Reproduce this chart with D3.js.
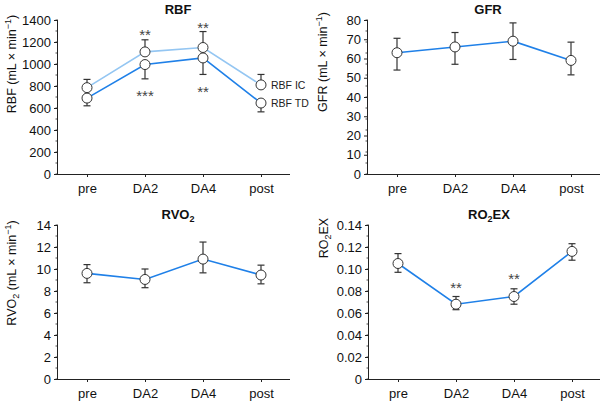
<!DOCTYPE html>
<html><head><meta charset="utf-8">
<script src="https://cdn.jsdelivr.net/npm/d3@7"></script>
<style>body{margin:0;background:#fff}svg{display:block}text{font-family:"Liberation Sans",Arial,sans-serif}</style>
</head><body>
<svg id="c" width="600" height="401"></svg>
<script>
const categories = ["pre","DA2","DA4","post"];
// RBF
const rbfIC = [785,1110,1150,810];
const rbfICUpper = [860,1220,1295,905];
const rbfTD = [690,995,1055,645];
const rbfTDLower = [620,865,905,565];
const rbfTicks = [0,200,400,600,800,1000,1200,1400];
// GFR
const gfr = [63,66,69,59];
const gfrUpper = [70.5,73.5,78.5,68.5];
const gfrLower = [54,57,59.5,51.5];
const gfrTicks = [0,10,20,30,40,50,60,70,80];
// RVO2
const rvo2 = [9.6,9.05,10.9,9.45];
const rvo2Upper = [10.4,10.0,12.45,10.35];
const rvo2Lower = [8.75,8.3,9.65,8.65];
const rvo2Ticks = [0,2,4,6,8,10,12,14];
// RO2EX
const ro2ex = [0.105,0.068,0.075,0.116];
const ro2exUpper = [0.114,0.075,0.082,0.123];
const ro2exLower = [0.097,0.063,0.068,0.108];
const ro2exTicks = [0,0.02,0.04,0.06,0.08,0.10,0.12,0.14];

const svg = d3.select("#c");
const DARK="#1f80e8", LIGHT="#94c6f2", GREY="#333";

function panel(o){
  const g = svg.append("g");
  const x = d3.scalePoint().domain(categories).range([o.x0, o.x0+232]).padding(0.5);
  const y = d3.scaleLinear().domain([0,o.max]).range([o.yb, o.yt]);
  const minor = d3.range(0, o.max+1e-9, o.max/14);
  g.append("g").selectAll("line").data(minor).join("line")
    .attr("x1",o.x0-2.5).attr("x2",o.x0).attr("y1",d=>y(d)).attr("y2",d=>y(d))
    .attr("stroke","#222").attr("stroke-width",0.8);
  const ya = d3.axisLeft(y).tickValues(o.ticks).tickSize(4).tickPadding(3).tickFormat(o.fmt);
  const yg = g.append("g").attr("transform",`translate(${o.x0},0)`).call(ya);
  yg.select(".domain").attr("d",`M${-0.5},${o.yt}V${o.yb}`).attr("stroke","#222");
  yg.selectAll(".tick line").attr("stroke","#222");
  yg.selectAll("text").attr("font-size",13).attr("fill","#111").style("font-family",'"Liberation Sans",Arial,sans-serif');
  const xa = d3.axisBottom(x).tickSize(3).tickPadding(7);
  const xg = g.append("g").attr("transform",`translate(0,${o.yb})`).call(xa);
  xg.select(".domain").attr("d",`M${o.x0},0.5H${o.x0+232}`).attr("stroke","#222");
  xg.selectAll(".tick line").attr("stroke","#222");
  xg.selectAll("text").attr("font-size",13).attr("fill","#111").style("font-family",'"Liberation Sans",Arial,sans-serif');
  const t = g.append("text").attr("x",o.x0+120).attr("y",o.yt-6).attr("text-anchor","middle")
    .attr("font-size",13).attr("font-weight","bold").attr("fill","#111");
  o.title(t);
  const yl = g.append("text").attr("transform",`translate(${o.lx},${o.ly}) rotate(-90)`)
    .attr("text-anchor","middle").attr("font-size",12.5).attr("fill","#111");
  o.label(yl);
  o.series.forEach(s=>{
    g.append("path").datum(s.v).attr("fill","none").attr("stroke",s.color).attr("stroke-width",1.6)
      .attr("d",d3.line().x((d,i)=>x(categories[i])).y(d=>y(d)));
  });
  o.series.forEach(s=>{
    s.v.forEach((v,i)=>{
      const cx=x(categories[i]);
      const hi = s.hi? s.hi[i] : v, lo = s.lo? s.lo[i] : v;
      g.append("line").attr("x1",cx).attr("x2",cx).attr("y1",y(hi)).attr("y2",y(lo)).attr("stroke",GREY).attr("stroke-width",1.2);
      if(s.hi) g.append("line").attr("x1",cx-3.5).attr("x2",cx+3.5).attr("y1",y(hi)).attr("y2",y(hi)).attr("stroke",GREY).attr("stroke-width",1.2);
      if(s.lo) g.append("line").attr("x1",cx-3.5).attr("x2",cx+3.5).attr("y1",y(lo)).attr("y2",y(lo)).attr("stroke",GREY).attr("stroke-width",1.2);
    });
  });
  o.series.forEach(s=>{
    g.append("g").selectAll("circle").data(s.v).join("circle")
      .attr("cx",(d,i)=>x(categories[i])).attr("cy",d=>y(d)).attr("r",5)
      .attr("fill","#fff").attr("stroke",GREY).attr("stroke-width",1);
  });
  (o.ann||[]).forEach(a=>{
    g.append("text").attr("x",x(a.c)).attr("y",y(a.v)).attr("text-anchor","middle")
      .attr("font-size",15).attr("fill","#444").text(a.t);
  });
  return {g,x,y};
}

function minLabel(t, pre, sub){
  t.append("tspan").text(pre);
  if(sub){ t.append("tspan").attr("font-size",9).attr("dy",3).text(sub); t.append("tspan").attr("dy",-3).text(" "); }
  t.append("tspan").text("(mL × min");
  t.append("tspan").attr("font-size",9).attr("dy",-5).text("−1");
  t.append("tspan").attr("dy",5).text(")");
}

const p1 = panel({x0:58, yt:20, yb:174, max:1400, ticks:rbfTicks, fmt:d3.format("d"),
  title:t=>t.text("RBF"), lx:16, ly:64, label:t=>minLabel(t,"RBF ",null),
  series:[{v:rbfIC,color:LIGHT,hi:rbfICUpper},{v:rbfTD,color:DARK,lo:rbfTDLower}],
  ann:[{c:"DA2",v:1218,t:"**"},{c:"DA2",v:664,t:"***"},{c:"DA4",v:1282,t:"**"},{c:"DA4",v:700,t:"**"}]});
p1.g.append("text").attr("x",271).attr("y",p1.y(rbfIC[3])+4).attr("font-size",10.5).attr("fill","#222").text("RBF IC");
p1.g.append("text").attr("x",271).attr("y",p1.y(rbfTD[3])+4).attr("font-size",10.5).attr("fill","#222").text("RBF TD");

panel({x0:368, yt:20, yb:174, max:80, ticks:gfrTicks, fmt:d3.format("d"),
  title:t=>t.text("GFR"), lx:327, ly:62, label:t=>minLabel(t,"GFR ",null),
  series:[{v:gfr,color:DARK,hi:gfrUpper,lo:gfrLower}]});

panel({x0:58, yt:225, yb:379, max:14, ticks:rvo2Ticks, fmt:d3.format("d"),
  title:t=>{t.append("tspan").text("RVO");t.append("tspan").attr("font-size",9).attr("dy",3).text("2");},
  lx:16, ly:273, label:t=>minLabel(t,"RVO","2"),
  series:[{v:rvo2,color:DARK,hi:rvo2Upper,lo:rvo2Lower}]});

panel({x0:369, yt:225, yb:379, max:0.14, ticks:ro2exTicks, fmt:d=>d===0?"0":d3.format(".2f")(d),
  title:t=>{t.append("tspan").text("RO");t.append("tspan").attr("font-size",9).attr("dy",3).text("2");t.append("tspan").attr("dy",-3).text("EX");},
  lx:328, ly:238, label:t=>{t.append("tspan").text("RO");t.append("tspan").attr("font-size",9).attr("dy",3).text("2");t.append("tspan").attr("dy",-3).text("EX");},
  series:[{v:ro2ex,color:DARK,hi:ro2exUpper,lo:ro2exLower}],
  ann:[{c:"DA2",v:0.0782,t:"**"},{c:"DA4",v:0.0864,t:"**"}]});
</script>
</body></html>
